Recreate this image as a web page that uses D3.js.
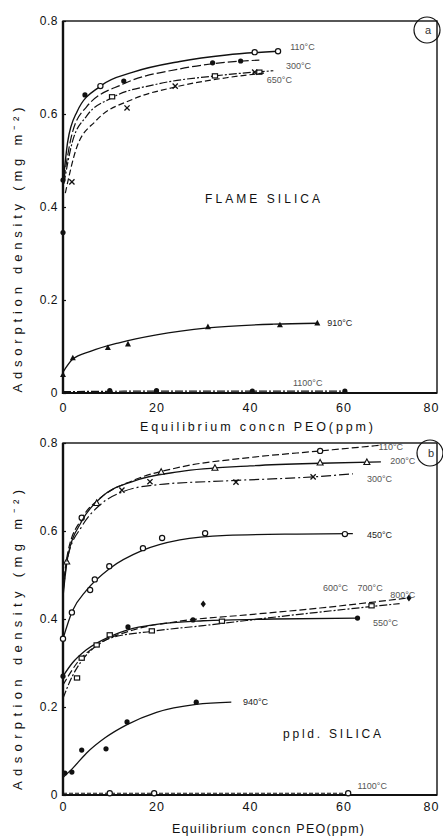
<!DOCTYPE html>
<html>
<head>
<meta charset="utf-8">
<script src="https://cdn.jsdelivr.net/npm/d3@7"></script>
<style>
  body { margin: 0; background: #fff; }
  svg { display: block; font-family: "Liberation Sans", Arial, sans-serif; }
  .tick line { stroke: #111; }
  .domain { display: none; }
</style>
</head>
<body>
<div id="chart"></div>
<script>
// ---- data ----
const xTicks = [0, 20, 40, 60, 80];
const yTicks = [0, 0.2, 0.4, 0.6, 0.8];
const yTickLabels = ["0", "0.2", "0.4", "0.6", "0.8"];

// flame silica (top panel)
const flameA_pts = [[8, 0.66], [41, 0.733], [46, 0.735]];
const flameA_curve = [[0.2, 0.47], [1, 0.54], [3, 0.605], [8, 0.66], [15, 0.69], [25, 0.713], [35, 0.727], [46, 0.735]];
const flameB_pts = [[4.7, 0.641], [13, 0.671], [32, 0.71], [38, 0.714]];
const flameB_curve = [[0.2, 0.46], [2, 0.56], [5, 0.615], [13, 0.665], [25, 0.697], [32, 0.708], [42, 0.716]];
const flameC_pts = [[10.5, 0.637], [32.5, 0.682], [42, 0.69]];
const flameC_curve = [[0.2, 0.45], [2, 0.54], [5, 0.595], [10.5, 0.635], [20, 0.664], [32.5, 0.682], [45, 0.693]];
const flameD_pts = [[1.9, 0.454], [13.7, 0.613], [24, 0.66], [41, 0.69]];
const flameD_curve = [[0.5, 0.43], [3, 0.53], [7, 0.585], [15, 0.632], [24, 0.658], [35, 0.678], [43, 0.688]];
const flameE_pts = [[0, 0.039], [2.1, 0.075], [9.6, 0.097], [13.9, 0.105], [31, 0.142], [46.4, 0.146], [54.4, 0.15]];
const flameE_curve = [[0, 0.045], [2, 0.072], [6, 0.09], [12, 0.108], [20, 0.125], [31, 0.14], [45, 0.148], [54.4, 0.15]];
const flameF_pts = [[0, 0.345], [0, 0.458], [10, 0.005], [20, 0.005], [40.5, 0.004], [60.3, 0.004]];
const flameF_curve = [[0, 0.003], [20, 0.004], [40, 0.004], [60.3, 0.004]];
const flameLabels = [
  { x: 48.6, y: 0.744, t: "110°C" },
  { x: 47.7, y: 0.703, t: "300°C" },
  { x: 43.6, y: 0.673, t: "650°C" },
  { x: 56.5, y: 0.15, t: "910°C" },
  { x: 49.2, y: 0.022, t: "1100°C" }
];

// precipitated silica (bottom panel)
const ppA_pts = [[4, 0.63], [55, 0.782]];
const ppA_curve = [[0, 0.47], [1, 0.55], [4, 0.628], [8, 0.675], [15, 0.715], [25, 0.745], [40, 0.767], [55, 0.782], [68, 0.795]];
const ppB_pts = [[0.8, 0.53], [7.2, 0.663], [21, 0.734], [32.5, 0.743], [55, 0.755], [65, 0.756]];
const ppB_curve = [[0, 0.45], [1, 0.54], [4, 0.622], [8, 0.675], [15, 0.713], [25, 0.735], [40, 0.748], [55, 0.754], [68, 0.757]];
const ppC_pts = [[12.6, 0.693], [18.6, 0.712], [37, 0.711], [53.5, 0.723]];
const ppC_curve = [[0, 0.46], [1, 0.54], [4, 0.61], [8, 0.66], [13, 0.69], [20, 0.705], [35, 0.714], [55, 0.724], [62, 0.73]];
const pp450_pts = [[0, 0.355], [1.9, 0.415], [5.8, 0.466], [6.8, 0.49], [9.9, 0.52], [17.1, 0.561], [21.2, 0.584], [30.4, 0.595], [60.3, 0.593]];
const pp450_curve = [[0, 0.355], [2, 0.418], [5, 0.465], [10, 0.515], [17, 0.556], [25, 0.58], [35, 0.59], [50, 0.593], [62, 0.594]];
const ppM1_pts = [[30, 0.434], [74, 0.448]];
const ppM1_curve = [[0, 0.25], [3, 0.3], [8, 0.345], [15, 0.375], [25, 0.395], [40, 0.41], [55, 0.425], [74, 0.448]];
const ppM2_pts = [[0, 0.27], [13.9, 0.382], [27.8, 0.398], [63, 0.402]];
const ppM2_curve = [[0, 0.27], [2, 0.3], [5, 0.33], [10, 0.36], [14, 0.376], [20, 0.388], [30, 0.396], [45, 0.4], [63, 0.402]];
const ppM3_pts = [[3, 0.266], [4, 0.311], [7.2, 0.341], [10, 0.364], [19, 0.373], [34, 0.395], [66, 0.43]];
const ppM3_curve = [[0, 0.22], [2, 0.27], [4, 0.305], [7, 0.338], [10, 0.356], [19, 0.372], [30, 0.385], [50, 0.41], [72, 0.435]];
const pp340_pts = [[0.4, 0.05], [1.9, 0.052], [4, 0.102], [9.2, 0.105], [13.7, 0.166], [28.5, 0.211]];
const pp340_curve = [[0, 0.04], [2, 0.06], [5, 0.095], [9, 0.13], [13.7, 0.16], [20, 0.188], [28.5, 0.206], [36, 0.211]];
const ppZ_pts = [[10, 0.004], [19.5, 0.004], [61, 0.004]];
const ppZ_curve = [[0, 0.004], [30, 0.004], [61, 0.004]];
const ppLabels = [
  { x: 67.5, y: 0.79, t: "110°C" },
  { x: 70, y: 0.76, t: "200°C" },
  { x: 65, y: 0.718, t: "300°C" },
  { x: 65, y: 0.59, t: "450°C" },
  { x: 55.6, y: 0.47, t: "600°C" },
  { x: 63, y: 0.47, t: "700°C" },
  { x: 70, y: 0.455, t: "800°C" },
  { x: 66.3, y: 0.39, t: "550°C" },
  { x: 38.5, y: 0.212, t: "940°C" },
  { x: 63, y: 0.02, t: "1100°C" }
];

// ---- drawing ----
const W = 443, H = 837;
const svg = d3.select("#chart").append("svg").attr("width", W).attr("height", H);

function marker(g, type, x, y) {
  const s = 2.6;
  if (type === "oc") g.append("circle").attr("cx", x).attr("cy", y).attr("r", s).attr("fill", "#fff").attr("stroke", "#111").attr("stroke-width", 1.2);
  else if (type === "fc") g.append("circle").attr("cx", x).attr("cy", y).attr("r", s).attr("fill", "#111");
  else if (type === "os") g.append("rect").attr("x", x - s).attr("y", y - s * 0.8).attr("width", 2 * s).attr("height", 1.6 * s).attr("fill", "#fff").attr("stroke", "#111").attr("stroke-width", 1.2);
  else if (type === "x") g.append("path").attr("d", `M${x - s},${y - s}L${x + s},${y + s}M${x + s},${y - s}L${x - s},${y + s}`).attr("stroke", "#111").attr("stroke-width", 1.3);
  else if (type === "ft") g.append("path").attr("d", `M${x},${y - 3.4}L${x + 3},${y + 2.2}L${x - 3},${y + 2.2}Z`).attr("fill", "#111");
  else if (type === "ot") g.append("path").attr("d", `M${x},${y - 3.4}L${x + 3},${y + 2.2}L${x - 3},${y + 2.2}Z`).attr("fill", "#fff").attr("stroke", "#111").attr("stroke-width", 1.1);
  else if (type === "fd") g.append("path").attr("d", `M${x},${y - 3.5}L${x + 2.6},${y}L${x},${y + 3.5}L${x - 2.6},${y}Z`).attr("fill", "#111");
}

function drawPanel(cfg) {
  const x = d3.scaleLinear().domain([0, 80]).range([63, 437]);
  const y = d3.scaleLinear().domain([0, 0.8]).range([cfg.y0, cfg.y1]);
  const g = svg.append("g");

  // frame
  g.append("rect").attr("x", x(0)).attr("y", y(0.8)).attr("width", x(80) - x(0)).attr("height", y(0) - y(0.8))
    .attr("fill", "none").attr("stroke", "#111").attr("stroke-width", 1.4);
  g.append("line").attr("x1", x(0)).attr("x2", x(0)).attr("y1", y(0.8)).attr("y2", y(0) + 1).attr("stroke", "#111").attr("stroke-width", 2.4);
  g.append("line").attr("x1", x(0)).attr("x2", x(80)).attr("y1", y(0)).attr("y2", y(0)).attr("stroke", "#111").attr("stroke-width", 2);

  // axes
  const xAxis = d3.axisBottom(x).tickValues(xTicks).tickSize(0).tickPadding(cfg.xPad).tickFormat(d3.format("d"));
  const xg = g.append("g").attr("transform", `translate(0,${y(0)})`).call(xAxis);
  xg.selectAll("text").attr("font-size", 12.5).attr("fill", "#111").attr("letter-spacing", 1);
  xg.selectAll("text").filter(d => d === 80).attr("dx", -6); // keep last label inside the page

  const yAxis = d3.axisLeft(y).tickValues(yTicks).tickSizeInner(-3).tickSizeOuter(0).tickPadding(5)
    .tickFormat((d, i) => yTickLabels[i]);
  const yg = g.append("g").attr("transform", `translate(${x(0)},0)`).call(yAxis);
  yg.selectAll("text").attr("font-size", 12).attr("fill", "#111").attr("letter-spacing", 0.5);
  yg.selectAll("line").attr("stroke-width", 1.2);

  // axis titles
  g.append("text").attr("transform", `translate(22,${cfg.yLabelMid}) rotate(-90)`)
    .attr("text-anchor", "middle").attr("font-size", 13).attr("fill", "#111")
    .attr("textLength", cfg.yLabelLen).attr("lengthAdjust", "spacing")
    .text("Adsorption density (mg m⁻²)");
  g.append("text").attr("x", cfg.xLabelX).attr("y", cfg.xLabelY)
    .attr("font-size", 12.5).attr("fill", "#111")
    .attr("textLength", cfg.xLabelLen).attr("lengthAdjust", "spacing")
    .text("Equilibrium concn PEO(ppm)");

  // curves + markers
  const line = d3.line().x(d => x(d[0])).y(d => y(d[1])).curve(d3.curveMonotoneX);
  cfg.series.forEach(s => {
    g.append("path").attr("d", line(s.curve)).attr("fill", "none").attr("stroke", "#111")
      .attr("stroke-width", s.w || 1.2).attr("stroke-dasharray", s.dash || null);
    s.pts.forEach(p => marker(g, s.m, x(p[0]), y(p[1])));
  });

  // temperature labels
  cfg.labels.forEach(l => {
    g.append("text").attr("x", x(l.x)).attr("y", y(l.y) + 3).attr("font-size", 9)
      .attr("fill", l.t === "450°C" || l.t === "940°C" || l.t === "910°C" ? "#222" : "#555").text(l.t);
  });

  // panel title
  g.append("text").attr("x", cfg.titleX).attr("y", cfg.titleY).attr("font-size", 12).attr("fill", "#111")
    .attr("textLength", cfg.titleLen).attr("lengthAdjust", "spacing").text(cfg.title);

  // circled panel tag
  g.append("circle").attr("cx", cfg.tag[0]).attr("cy", cfg.tag[1]).attr("r", 13)
    .attr("fill", "none").attr("stroke", "#111").attr("stroke-width", 1.2);
  g.append("text").attr("x", cfg.tag[0] + 1).attr("y", cfg.tag[1] + 4).attr("text-anchor", "middle")
    .attr("font-size", 11).attr("fill", "#333").text(cfg.tagText);
}

drawPanel({
  y0: 393, y1: 21, xPad: 10,
  yLabelMid: 250, yLabelLen: 285,
  xLabelX: 140, xLabelY: 431, xLabelLen: 233,
  title: "FLAME SILICA", titleX: 205, titleY: 203, titleLen: 115,
  tag: [427, 30], tagText: "a",
  series: [
    { pts: flameA_pts, curve: flameA_curve, m: "oc", w: 1.4 },
    { pts: flameB_pts, curve: flameB_curve, m: "fc", dash: "9,3" },
    { pts: flameC_pts, curve: flameC_curve, m: "os", dash: "8,2,2,2" },
    { pts: flameD_pts, curve: flameD_curve, m: "x", dash: "6,3" },
    { pts: flameE_pts, curve: flameE_curve, m: "ft", w: 1.3, dash: null },
    { pts: flameF_pts, curve: flameF_curve, m: "fc", dash: "8,2,2,2" }
  ],
  labels: flameLabels
});

drawPanel({
  y0: 795, y1: 443, xPad: 7,
  yLabelMid: 640, yLabelLen: 300,
  xLabelX: 172, xLabelY: 833, xLabelLen: 192,
  title: "ppld. SILICA", titleX: 283, titleY: 738, titleLen: 98,
  tag: [430, 453], tagText: "b",
  series: [
    { pts: ppA_pts, curve: ppA_curve, m: "oc", dash: "7,3" },
    { pts: ppB_pts, curve: ppB_curve, m: "ot", w: 1.3 },
    { pts: ppC_pts, curve: ppC_curve, m: "x", dash: "10,3,2,3" },
    { pts: pp450_pts, curve: pp450_curve, m: "oc", w: 1.3 },
    { pts: ppM1_pts, curve: ppM1_curve, m: "fd", dash: "7,3" },
    { pts: ppM2_pts, curve: ppM2_curve, m: "fc", w: 1.3 },
    { pts: ppM3_pts, curve: ppM3_curve, m: "os", dash: "8,2,2,2" },
    { pts: pp340_pts, curve: pp340_curve, m: "fc", w: 1.3 },
    { pts: ppZ_pts, curve: ppZ_curve, m: "oc", dash: "4,2" }
  ],
  labels: ppLabels
});
</script>
</body>
</html>
